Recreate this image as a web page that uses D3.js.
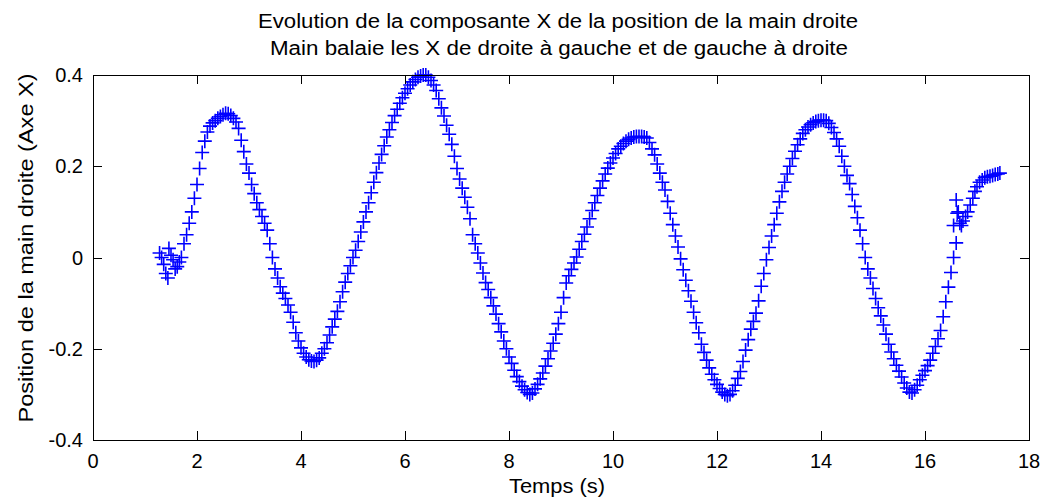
<!DOCTYPE html>
<meta charset="utf-8">
<style>
body { margin: 0; background: #fff; }
text { font-family: "Liberation Sans", Arial, sans-serif; fill: #000; }
.mk { stroke: #0000ff; stroke-width: 1.6px; fill: none; }
</style>
<body>
<script src="https://d3js.org/d3.v7.min.js"></script>
<script>
var width = 1041,
    height = 499;

// start cluster (hand is hesitating before the sweep)
var startT = [1.28, 1.32, 1.36, 1.40, 1.44, 1.46, 1.50, 1.54, 1.58, 1.62, 1.66];
var startV = [0.01, 0.0, -0.015, -0.035, -0.045, 0.02, 0.005, -0.005, -0.025, -0.02, -0.01];

// main sweep, sampled every 0.05 s from 1.70 s
var t0 = 1.70, dt = 0.05;
var mainV = [
  0.000, 0.030, 0.050, 0.075, 0.100, 0.130, 0.160, 0.195, 0.230, 0.255,
  0.275, 0.288, 0.295, 0.300, 0.305, 0.309, 0.313, 0.316, 0.315, 0.311,
  0.305, 0.297, 0.283, 0.257, 0.232, 0.205, 0.185, 0.160, 0.140, 0.120,
  0.105, 0.090, 0.075, 0.060, 0.030, 0.000, -0.025, -0.045, -0.064, -0.078,
  -0.090, -0.104, -0.120, -0.142, -0.165, -0.183, -0.198, -0.210, -0.218, -0.224,
  -0.227, -0.228, -0.225, -0.220, -0.210, -0.200, -0.187, -0.170, -0.152, -0.135,
  -0.118, -0.097, -0.075, -0.054, -0.035, -0.018, 0.000, 0.016, 0.035, 0.056,
  0.078, 0.100, 0.120, 0.142, 0.165, 0.186, 0.207, 0.226, 0.245, 0.264,
  0.280, 0.296, 0.311, 0.325, 0.338, 0.350, 0.360, 0.370, 0.378, 0.385,
  0.390, 0.395, 0.398, 0.400, 0.400, 0.395, 0.388, 0.378, 0.366, 0.348,
  0.328, 0.310, 0.290, 0.270, 0.248, 0.222, 0.195, 0.172, 0.152, 0.132,
  0.110, 0.085, 0.050, 0.030, 0.010, -0.012, -0.034, -0.055, -0.070, -0.088,
  -0.106, -0.124, -0.145, -0.163, -0.183, -0.200, -0.218, -0.232, -0.247, -0.261,
  -0.272, -0.282, -0.290, -0.296, -0.300, -0.297, -0.288, -0.278, -0.266, -0.253,
  -0.238, -0.222, -0.205, -0.188, -0.168, -0.145, -0.120, -0.088, -0.056, -0.040,
  -0.026, -0.012, 0.001, 0.018, 0.035, 0.051, 0.067, 0.085, 0.103, 0.120,
  0.136, 0.152, 0.168, 0.183, 0.196, 0.207, 0.218, 0.228, 0.238, 0.244,
  0.250, 0.255, 0.259, 0.262, 0.264, 0.265, 0.265, 0.265, 0.264, 0.262,
  0.252, 0.238, 0.225, 0.205, 0.185, 0.165, 0.148, 0.123, 0.097, 0.072,
  0.047, 0.023, -0.003, -0.027, -0.050, -0.073, -0.096, -0.120, -0.143, -0.165,
  -0.190, -0.208, -0.225, -0.242, -0.256, -0.268, -0.278, -0.287, -0.295, -0.300,
  -0.303, -0.300, -0.292, -0.280, -0.265, -0.250, -0.228, -0.203, -0.180, -0.157,
  -0.140, -0.122, -0.095, -0.063, -0.035, -0.005, 0.022, 0.047, 0.072, 0.097,
  0.122, 0.145, 0.165, 0.183, 0.200, 0.217, 0.233, 0.247, 0.260, 0.272,
  0.280, 0.286, 0.291, 0.295, 0.298, 0.300, 0.301, 0.301, 0.300, 0.294,
  0.285, 0.274, 0.260, 0.244, 0.222, 0.200, 0.180, 0.162, 0.138, 0.112,
  0.087, 0.060, 0.030, 0.000, -0.025, -0.045, -0.068, -0.090, -0.110, -0.128,
  -0.148, -0.168, -0.190, -0.207, -0.222, -0.236, -0.249, -0.262, -0.275, -0.286,
  -0.295, -0.297, -0.290, -0.280, -0.268, -0.258, -0.248, -0.237, -0.225, -0.210,
  -0.195, -0.178, -0.160, -0.130, -0.097, -0.065, -0.033, 0.000, 0.032
];

// end cluster after the tracker jump
var endT = [16.55, 16.60, 16.62, 16.64, 16.67, 16.70, 16.73, 16.78, 16.82, 16.87, 16.92, 16.96,
            17.00, 17.05, 17.10, 17.15, 17.20, 17.25, 17.30, 17.35, 17.40, 17.44];
var endV = [0.070, 0.126, 0.097, 0.100, 0.075, 0.070, 0.080, 0.090, 0.100, 0.115, 0.130, 0.145,
            0.155, 0.165, 0.170, 0.175, 0.177, 0.178, 0.180, 0.182, 0.183, 0.185];

var xTicks = [0, 2, 4, 6, 8, 10, 12, 14, 16, 18];
var yTicks = [-0.4, -0.2, 0, 0.2, 0.4];

var title1 = "Evolution de la composante X de la position de la main droite",
    title2 = "Main balaie les X de droite à gauche et de gauche à droite",
    xLabel = "Temps (s)",
    yLabel = "Position de la main droite (Axe X)";

var pts = [];
startT.forEach(function(t, i) { pts.push([t, startV[i]]); });
mainV.forEach(function(v, i) { pts.push([t0 + i * dt, v]); });
endT.forEach(function(t, i) { pts.push([t, endV[i]]); });

var m = {left: 93, right: 1029, top: 75, bottom: 440};

var x = d3.scaleLinear().domain([0, 18]).range([m.left, m.right]);
var y = d3.scaleLinear().domain([-0.4, 0.4]).range([m.bottom, m.top]);

var svg = d3.select("body").append("svg")
    .attr("width", width)
    .attr("height", height);

// data markers
var s = 7;
svg.append("g").selectAll("path")
    .data(pts)
    .enter().append("path")
    .attr("class", "mk")
    .attr("d", function(d) {
      var px = x(d[0]), py = y(d[1]);
      return "M" + (px - s) + "," + py + "H" + (px + s) +
             "M" + px + "," + (py - s) + "V" + (py + s);
    });

// axes box with inward ticks on all sides
var tk = 9;
var g = svg.append("g").attr("stroke", "#000").attr("stroke-width", 1).attr("fill", "none");
g.append("rect")
    .attr("x", m.left + 0.5).attr("y", m.top + 0.5)
    .attr("width", m.right - m.left).attr("height", m.bottom - m.top);
xTicks.forEach(function(v) {
  var px = Math.round(x(v)) + 0.5;
  g.append("line").attr("x1", px).attr("x2", px).attr("y1", m.bottom).attr("y2", m.bottom - tk);
  g.append("line").attr("x1", px).attr("x2", px).attr("y1", m.top).attr("y2", m.top + tk);
});
yTicks.forEach(function(v) {
  var py = Math.round(y(v)) + 0.5;
  g.append("line").attr("y1", py).attr("y2", py).attr("x1", m.left).attr("x2", m.left + tk);
  g.append("line").attr("y1", py).attr("y2", py).attr("x1", m.right).attr("x2", m.right - tk);
});

var fs = "20px";

svg.append("g").selectAll("text")
    .data(xTicks)
    .enter().append("text")
    .attr("x", function(d) { return x(d); })
    .attr("y", 468)
    .attr("text-anchor", "middle")
    .style("font-size", fs)
    .text(function(d) { return d; });

svg.append("g").selectAll("text")
    .data(yTicks)
    .enter().append("text")
    .attr("x", 83)
    .attr("y", function(d) { return y(d) + 7; })
    .attr("text-anchor", "end")
    .style("font-size", fs)
    .text(function(d) { return d; });

svg.append("text")
    .attr("x", 558).attr("y", 28)
    .attr("text-anchor", "middle").style("font-size", fs)
    .attr("textLength", 600).attr("lengthAdjust", "spacingAndGlyphs")
    .text(title1);
svg.append("text")
    .attr("x", 559).attr("y", 55)
    .attr("text-anchor", "middle").style("font-size", fs)
    .attr("textLength", 578).attr("lengthAdjust", "spacingAndGlyphs")
    .text(title2);

svg.append("text")
    .attr("x", 557).attr("y", 493)
    .attr("text-anchor", "middle").style("font-size", fs)
    .attr("textLength", 96).attr("lengthAdjust", "spacingAndGlyphs")
    .text(xLabel);

svg.append("text")
    .attr("transform", "translate(33,248) rotate(-90)")
    .attr("text-anchor", "middle").style("font-size", fs)
    .attr("textLength", 349).attr("lengthAdjust", "spacingAndGlyphs")
    .text(yLabel);
</script>
</body>
